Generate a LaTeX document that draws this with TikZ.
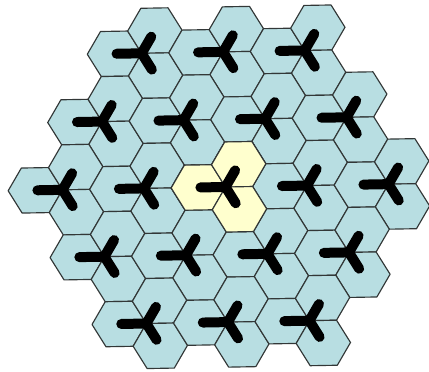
\documentclass[tikz,border=0pt]{standalone}
\usetikzlibrary{calc}
\definecolor{cellblue}{RGB}{184,222,226}
\definecolor{cellyellow}{RGB}{255,255,206}
\definecolor{celledge}{RGB}{50,55,55}
\begin{document}
\begin{tikzpicture}[x=1pt,y=1pt,
  cell/.style={draw=celledge, line width=1.15pt, fill=cellblue, line join=round},
  home/.style={cell, fill=cellyellow},
  antenna/.style={line width=10pt, line cap=round, line join=round, black}]
\useasboundingbox (0,0) rectangle (429,372);
\def\a{26}
\def\sitelist{-3/2, 0/2, 3/2, -4.5/1, -1.5/1, 1.5/1, 4.5/1, -6/0, -3/0, 0/0, 3/0, 6/0, -4.5/-1, -1.5/-1, 1.5/-1, 4.5/-1, -3/-2, 0/-2, 3/-2}
\begin{scope}[shift={(225.5,185)}, rotate=1, xscale=1.045]
  % cells
  \foreach \sx/\sr [count=\i] in \sitelist {
    \pgfmathsetmacro\px{\sx*\a}
    \pgfmathsetmacro\py{\sr*1.5*sqrt(3)*\a}
    \coordinate (site\i) at (\px,\py);
    \foreach \dx/\dy in {-1/0, 0.5/0.8660, 0.5/-0.8660} {
      \draw[cell, shift={($(site\i)+(\dx*\a,\dy*\a)$)}]
        (0:\a) -- (60:\a) -- (120:\a) -- (180:\a) -- (240:\a) -- (300:\a) -- cycle;
    }
  }
  % serving site (centre)
  \coordinate (home) at (0,0);
  \foreach \dx/\dy in {-1/0, 0.5/0.8660, 0.5/-0.8660} {
    \draw[home, shift={($(home)+(\dx*\a,\dy*\a)$)}]
      (0:\a) -- (60:\a) -- (120:\a) -- (180:\a) -- (240:\a) -- (300:\a) -- cycle;
  }
  % antennas
  \foreach \i in {1,...,19} {
    \draw[antenna] (site\i) -- ++(180:24) (site\i) -- ++(60:19) (site\i) -- ++(-60:19);
  }
\end{scope}
\end{tikzpicture}
\end{document}
